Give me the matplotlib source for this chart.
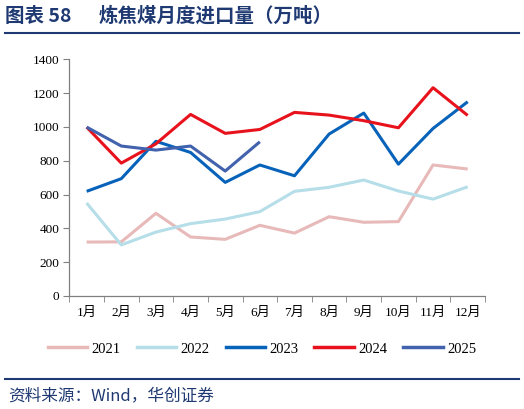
import matplotlib.pyplot as plt
from matplotlib.lines import Line2D
import numpy as np

months = ['1月', '2月', '3月', '4月', '5月', '6月', '7月', '8月', '9月', '10月', '11月', '12月']
y2021 = [319, 320, 489, 349, 335, 418, 372, 469, 436, 440, 775, 751]
y2022 = [550, 302, 378, 428, 455, 499, 619, 643, 686, 621, 573, 646]
y2023 = [619, 694, 915, 849, 672, 775, 711, 958, 1082, 780, 991, 1149]
y2024 = [999, 786, 900, 1074, 962, 985, 1086, 1070, 1037, 995, 1232, 1068]
y2025 = [999, 887, 863, 887, 739, 912]

series = [('2021', y2021, '#E8B9B9'),
          ('2022', y2022, '#B5DEE9'),
          ('2023', y2023, '#0762BA'),
          ('2024', y2024, '#E8121C'),
          ('2025', y2025, '#4262AE')]

navy = '#1F3A73'
serif = ['Liberation Serif', 'Noto Sans CJK SC']
cjk = ['Noto Sans CJK SC', 'DejaVu Sans']

fig = plt.figure(figsize=(5.24, 4.09), dpi=100)
ax = fig.add_axes([0.1323, 0.2763, 0.7933, 0.5787])

for name, vals, col in series:
    ax.plot(np.arange(len(vals)), vals, color=col, lw=2.2, label=name,
            solid_capstyle='butt')

ax.set_xlim(-0.5, 11.5)
ax.set_ylim(0, 1400)
ax.set_yticks(range(0, 1401, 200))
ax.set_yticklabels([str(v) for v in range(0, 1401, 200)], family=serif, fontsize=9.5)
ax.set_xticks(range(12))
ax.set_xticklabels(months, family=serif, fontsize=9.5)
ax.set_xticks(np.arange(-0.5, 12, 1), minor=True)
ax.tick_params(axis='x', which='major', length=0, pad=8)
ax.tick_params(axis='x', which='minor', length=4, color='#808080', direction='out')
ax.tick_params(axis='y', length=4, color='#808080', direction='out', pad=3)
for s in ['top', 'right']:
    ax.spines[s].set_visible(False)
for s in ['left', 'bottom']:
    ax.spines[s].set_color('#808080')
    ax.spines[s].set_linewidth(0.9)

handles = [Line2D([], [], color=c, lw=2.5) for _, _, c in series]
fig.legend(handles, [n for n, _, _ in series], loc='center', ncol=5,
           bbox_to_anchor=(0.5, 1 - 349 / 409), frameon=False,
           prop={'family': serif, 'size': 10.5}, handlelength=2.7,
           handletextpad=0.3, columnspacing=1.1)

# title and footer
fig.text(5 / 524, 1 - 16 / 409, '图表 58', family=cjk,
         fontsize=14, fontweight='bold', color=navy, va='center', ha='left')
fig.text(99 / 524, 1 - 16 / 409, '炼焦煤月度进口量（万吨）', family=cjk,
         fontsize=14, fontweight='bold', color=navy, va='center', ha='left')
fig.add_artist(Line2D([0.01, 0.99], [1 - 33 / 409] * 2, color=navy, lw=1.5))
fig.add_artist(Line2D([0.01, 0.99], [1 - 379 / 409] * 2, color=navy, lw=1.5))
fig.text(8 / 524, 1 - 396 / 409, '资料来源：Wind，华创证券', family=['Noto Sans CJK SC', 'Liberation Serif'],
         fontsize=12, style='italic', color=navy, va='center', ha='left')

fig.savefig('out.png', dpi=100)
